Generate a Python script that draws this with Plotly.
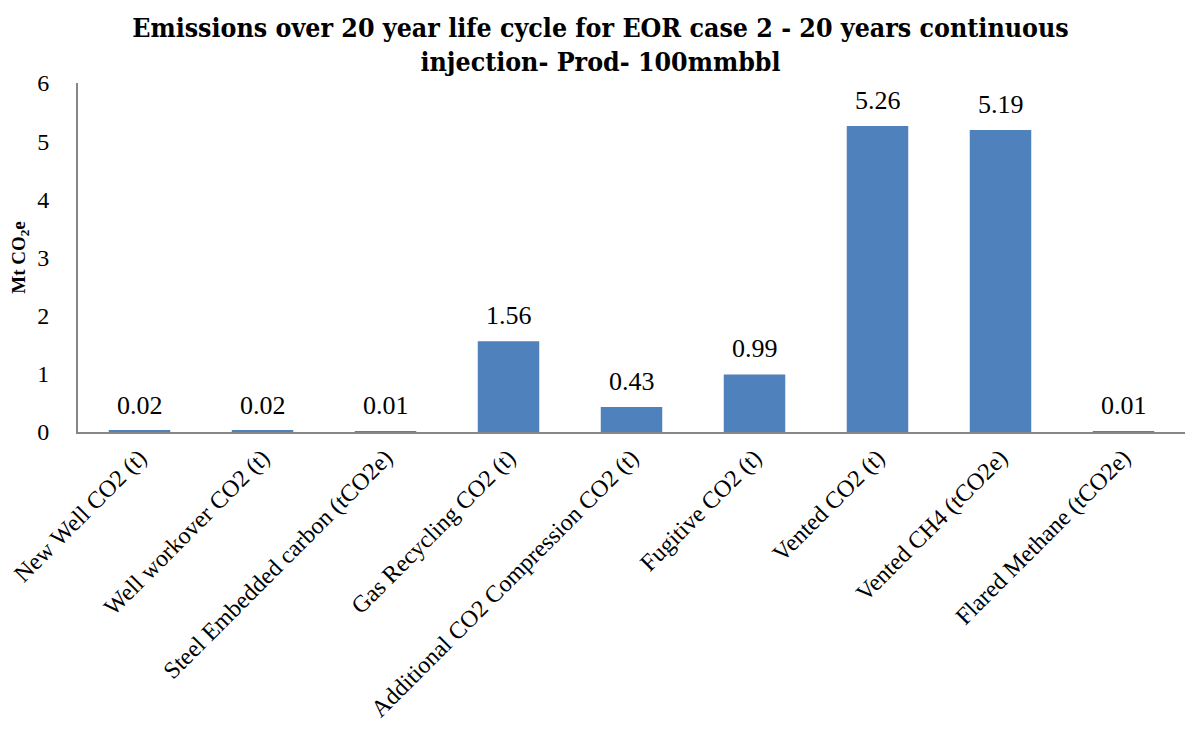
import plotly.graph_objects as go

categories = [
    "New Well CO2 (t)",
    "Well workover CO2 (t)",
    "Steel Embedded carbon (tCO2e)",
    "Gas Recycling CO2 (t)",
    "Additional CO2 Compression CO2 (t)",
    "Fugitive CO2 (t)",
    "Vented CO2 (t)",
    "Vented CH4 (tCO2e)",
    "Flared Methane (tCO2e)",
]
values = [0.02, 0.02, 0.01, 1.56, 0.43, 0.99, 5.26, 5.19, 0.01]
labels = [f"{v:.2f}" for v in values]

SERIF = "Liberation Serif"
TITLE_FONT = "DejaVu Serif Condensed, Liberation Serif"

# page has an 8px body margin, so the figure is drawn 8px smaller
W, H = 1185, 721

fig = go.Figure(
    go.Bar(
        x=categories,
        y=values,
        marker=dict(color="#4f81bd", line=dict(width=0)),
        width=0.5,
    )
)

# value labels above the bars
for cat, val, lab in zip(categories, values, labels):
    fig.add_annotation(
        x=cat, y=val, text=lab,
        showarrow=False, yanchor="bottom", yshift=9,
        font=dict(family=SERIF, size=26, color="black"),
    )

fig.update_layout(
    width=W,
    height=H,
    paper_bgcolor="white",
    plot_bgcolor="white",
    margin=dict(l=70, r=8, t=75, b=297, autoexpand=False),
    showlegend=False,
    title=dict(
        text="<b>Emissions over 20 year life cycle for EOR case 2 - 20 years continuous<br>injection- Prod- 100mmbbl</b>",
        x=0.5,
        xanchor="center",
        y=1 - 29 / H,
        yanchor="middle",
        font=dict(family=TITLE_FONT, size=26.5, color="black"),
    ),
    xaxis=dict(
        tickangle=-45,
        tickfont=dict(family=SERIF, size=24, color="black"),
        showline=True,
        linecolor="#868686",
        linewidth=2,
        ticks="",
        showgrid=False,
        automargin=False,
    ),
    yaxis=dict(
        range=[0, 6],
        dtick=1,
        tickfont=dict(family=SERIF, size=24, color="black"),
        ticklabelstandoff=22,
        showline=True,
        linecolor="#868686",
        linewidth=2,
        ticks="",
        showgrid=False,
        zeroline=False,
        automargin=False,
        title=dict(
            text="<b>Mt CO<sub>2</sub>e</b>",
            font=dict(family=SERIF, size=19, color="black"),
            standoff=12,
        ),
    ),
)

fig.write_html("out.html")
